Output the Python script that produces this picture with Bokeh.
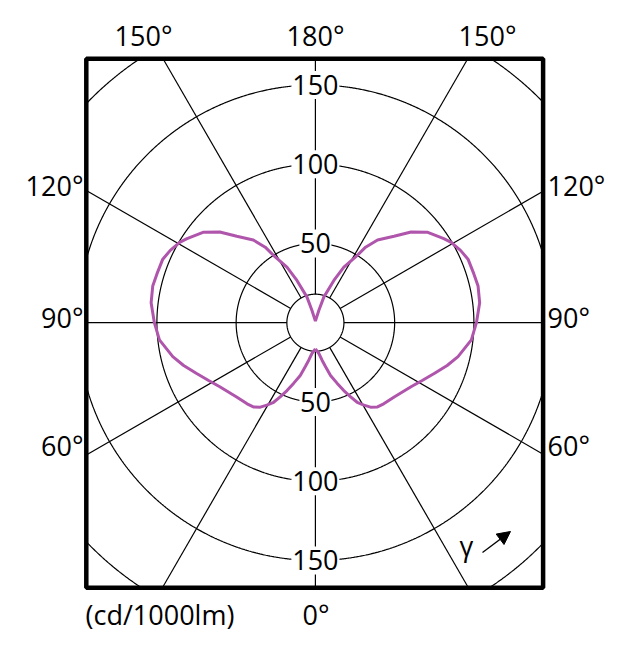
import numpy as np
from bokeh.plotting import figure
from bokeh.models import Range1d, Arrow, NormalHead
from bokeh.core.properties import value
from bokeh.embed import file_html
from bokeh.resources import INLINE

# luminous intensity curve (gamma in degrees from nadir, cd/1000lm), same on both sides
gamma_deg = [0, 6.2, 10.2, 12.9, 16.0, 19.8, 22.7, 25.4, 27.7, 30.5, 33.1, 36.4, 40.1,
             46.7, 56.2, 61.6, 67.0, 72.0, 76.6, 83.7, 90, 96.9, 102.7, 107.2, 112.6,
             116.5, 120.6, 123.2, 128.8, 133.5, 137.7, 143.1, 146.4, 148.1, 152.9,
             156.4, 161.8, 164.4, 180]
intensity = [16.5, 19.4, 24.2, 28.4, 34.6, 40.7, 46.4, 51.8, 56.7, 60.4, 63.6, 66.0, 66.9,
             68.3, 72.6, 76.6, 81.7, 87.4, 92.5, 99.0, 101.6, 104.4, 105.2, 104.6, 104.3,
             102.3, 99.5, 96.8, 91.0, 83.2, 73.7, 65.3, 57.2, 50.1, 39.4,
             29.1, 17.0, 8.0, 1.0]

rings = [50, 100, 150, 200]
ring_labels = ["50", "100", "150"]
inner_ring = 18
spoke_angles = list(range(0, 360, 30))

side_labels = ["120°", "90°", "60°"]
top_labels = ["150°", "180°", "150°"]
bottom_label = "0°"
unit_label = "(cd/1000lm)"

# canvas geometry in pixels
W, H = 636, 650
S = 1.585            # px per cd/1000lm
CX, CY = 314.9, 322.2
BOX_L, BOX_R, BOX_T, BOX_B = 85.8, 542.6, 58.3, 587.2


def dx(px):
    return (px - CX) / S


def dy(py):
    return (CY - py) / S


FONT = value("Open Sans")
FS = "27px"

p = figure(frame_width=W, frame_height=H,
           x_range=Range1d(dx(0), dx(W)), y_range=Range1d(dy(H), dy(0)),
           output_backend="svg", toolbar_location=None,
           x_axis_location=None, y_axis_location=None, min_border=0)
p.grid.visible = False
p.outline_line_color = None
p.background_fill_color = "white"
p.border_fill_color = "white"

xl, xr, yt, yb = dx(BOX_L), dx(BOX_R), dy(BOX_T), dy(BOX_B)

# spokes from the inner ring to the box edge
th = np.radians(spoke_angles)
ux, uy = np.sin(th), -np.cos(th)
with np.errstate(divide="ignore", invalid="ignore"):
    tx = np.where(ux > 1e-9, xr / ux, np.where(ux < -1e-9, xl / ux, np.inf))
    ty = np.where(uy > 1e-9, yt / uy, np.where(uy < -1e-9, yb / uy, np.inf))
t_end = np.minimum(tx, ty)
p.segment(x0=inner_ring * ux, y0=inner_ring * uy, x1=t_end * ux, y1=t_end * uy,
          line_color="black", line_width=1.2)

# rings, clipped to the box
phi = np.linspace(0, 2 * np.pi, 1441)
for r in [inner_ring] + rings:
    cx_, cy_ = r * np.cos(phi), r * np.sin(phi)
    inside = (cx_ >= xl) & (cx_ <= xr) & (cy_ >= yb) & (cy_ <= yt)
    p.line(np.where(inside, cx_, np.nan), np.where(inside, cy_, np.nan),
           line_color="black", line_width=1.2)

# box
p.quad(left=[xl], right=[xr], top=[yt], bottom=[yb], fill_color=None,
       line_color="black", line_width=4.5)

# ring labels with white boxes
lab_vals = [int(v) for v in ring_labels]
ly = lab_vals + [-v for v in lab_vals]
lt = ring_labels + ring_labels
hw = [len(t) * 8.0 / S for t in lt]
p.quad(left=[-h for h in hw], right=hw, top=[y + 14 / S for y in ly],
       bottom=[y - 14 / S for y in ly], fill_color="white", line_color=None)
p.text(x=[0] * len(ly), y=ly, text=lt, text_font=FONT, text_font_size=FS,
       text_align="center", text_baseline="middle", text_color="black")

# curve
g = np.radians(gamma_deg)
I = np.array(intensity)
xs = np.concatenate([I * np.sin(g), (-I * np.sin(g))[::-1]])
ys = np.concatenate([-I * np.cos(g), (-I * np.cos(g))[::-1]])
p.line(xs, ys, line_color="#B055AC", line_width=3)

# angle labels outside the box
side_y = [185, 317, 445]
p.text(x=[dx(83)] * 3, y=[dy(v) for v in side_y], text=side_labels, text_font=FONT,
       text_font_size=FS, text_align="right", text_baseline="middle", text_color="black")
p.text(x=[dx(547)] * 3, y=[dy(v) for v in side_y], text=side_labels, text_font=FONT,
       text_font_size=FS, text_align="left", text_baseline="middle", text_color="black")
p.text(x=[dx(143), dx(315), dx(487)], y=[dy(35)] * 3, text=top_labels, text_font=FONT,
       text_font_size=FS, text_align="center", text_baseline="middle", text_color="black")
p.text(x=[dx(315.5)], y=[dy(614)], text=[bottom_label], text_font=FONT,
       text_font_size=FS, text_align="center", text_baseline="middle", text_color="black")
p.text(x=[dx(85)], y=[dy(614)], text=[unit_label], text_font=FONT,
       text_font_size=FS, text_align="left", text_baseline="middle", text_color="black")

# gamma arrow
p.text(x=[dx(466)], y=[dy(545)], text=["γ"], text_font=FONT, text_font_size=FS,
       text_align="center", text_baseline="middle", text_color="black")
p.add_layout(Arrow(end=NormalHead(size=13, fill_color="black", line_color="black"),
                   x_start=dx(482), y_start=dy(552), x_end=dx(510), y_end=dy(531),
                   line_width=1.3, line_color="black"))

open("out.html", "w").write(file_html(p, INLINE))
